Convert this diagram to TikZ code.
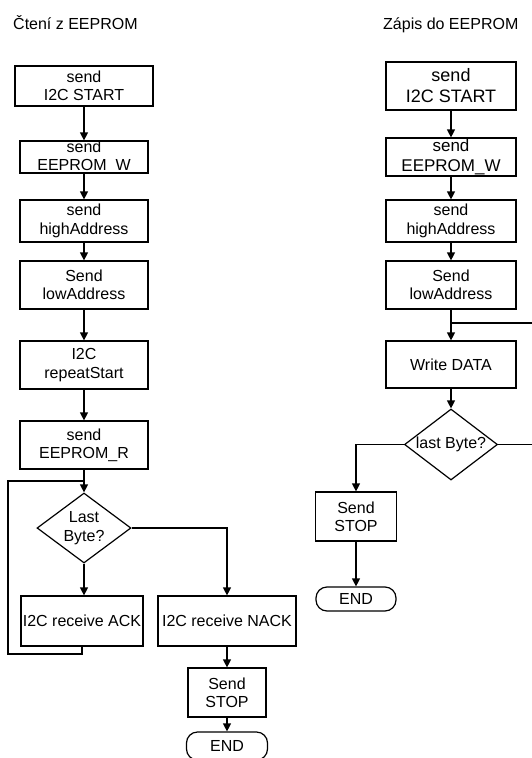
\documentclass[tikz,border=0pt]{standalone}
\usepackage{fontspec}
\setmainfont{Liberation Sans}
\usetikzlibrary{arrows.meta,shapes.geometric}

\begin{document}
\begin{tikzpicture}[x=1pt,y=-1pt,
  every node/.style={font=\fontsize{16}{18.4}\selectfont, inner sep=0pt},
  title/.style={anchor=base west},
  box/.style={draw, line width=1.2pt, rectangle, align=center, minimum width=128pt},
  bigbox/.style={box, minimum width=130pt},
  decision/.style={draw, line width=1.2pt, diamond},
  terminal/.style={draw, line width=1.2pt, rectangle, rounded corners=11pt},
  line/.style={line width=1.2pt},
  flow/.style={line width=1.2pt, -{Triangle[length=8pt,width=8pt]}}
]
\useasboundingbox (0,0) rectangle (531,758);

% ---------- reading ----------
\node[title] (tl) at (13,29.5) {Čtení z EEPROM};

\node[box, minimum width=138pt, minimum height=40pt] (l1) at (84,86) {send\\I2C START};
\node[box, minimum height=32pt,
      label={[align=center]center:send\\EEPROM\_W}] (l2) at (84,157) {};
\node[box, minimum height=42pt] (l3) at (84,221) {send\\highAddress};
\node[box, minimum height=48pt] (l4) at (84,285) {Send\\lowAddress};
\node[box, minimum height=48pt] (l5) at (84,365) {I2C\\repeatStart};
\node[box, minimum height=48pt] (l6) at (84,445) {send\\EEPROM\_R};
\coordinate (lj) at (84,481);
\coordinate (ll) at (8,481);
\coordinate (lb) at (8,654);
\node[decision, minimum width=94pt, minimum height=70pt,
      label={[align=center]center:Last\\Byte?}] (ld) at (84,528) {};
\node[box, minimum width=122pt, minimum height=50pt] (ack) at (82,621) {I2C receive ACK};
\node[box, minimum width=138pt, minimum height=50pt] (nack) at (227,621) {I2C receive NACK};
\node[box, minimum width=78pt, minimum height=49pt] (stopl) at (227,692.5) {Send\\STOP};
\node[terminal, minimum width=81pt, minimum height=28pt] (endl) at (227,746) {END};

\draw[flow] (l1) -- (l2);
\draw[flow] (l2) -- (l3);
\draw[flow] (l3) -- (l4);
\draw[flow] (l4) -- (l5);
\draw[flow] (l5) -- (l6);
\draw[flow] (l6) -- (ld);
\draw[line] (ack.south) |- (lb) -- (ll) -- (lj);
\draw[flow] (ld.south) -- (ld.south |- ack.north);
\draw[flow] (ld.east) -| (nack.north);
\draw[flow] (nack) -- (stopl);
\draw[flow] (stopl) -- (endl);

% ---------- writing ----------
\node[title] (tr) at (383,29.5) {Zápis do EEPROM};

\node[bigbox, minimum height=48pt, font=\fontsize{18}{21}\selectfont] (r1) at (451,86) {send\\I2C START};
\node[bigbox, minimum height=38pt, font=\fontsize{17}{19.5}\selectfont] (r2) at (451,157) {send\\EEPROM\_W};
\node[bigbox, minimum height=42pt] (r3) at (451,221) {send\\highAddress};
\node[bigbox, minimum height=48pt] (r4) at (451,285) {Send\\lowAddress};
\coordinate (rj) at (451,323);
\node[bigbox, minimum height=47pt] (wd) at (451,364.5) {Write DATA};
\node[decision, minimum width=93pt, minimum height=71pt,
      label={[align=center]center:last Byte?}] (rd) at (451,444.5) {};
\coordinate (rc) at (536,444.5);
\node[box, minimum width=81pt, minimum height=49pt] (stopr) at (356,516.5) {Send\\STOP};
\node[terminal, minimum width=80pt, minimum height=24pt] (endr) at (356,599) {END};

\draw[flow] (r1) -- (r2);
\draw[flow] (r2) -- (r3);
\draw[flow] (r3) -- (r4);
\draw[flow] (r4) -- (wd);
\draw[line] (rd.east) -- (rc) |- (rj);
\draw[flow] (wd) -- (rd);
\draw[flow] (rd.west) -| (stopr.north);
\draw[flow] (stopr) -- (endr);
\end{tikzpicture}
\end{document}
